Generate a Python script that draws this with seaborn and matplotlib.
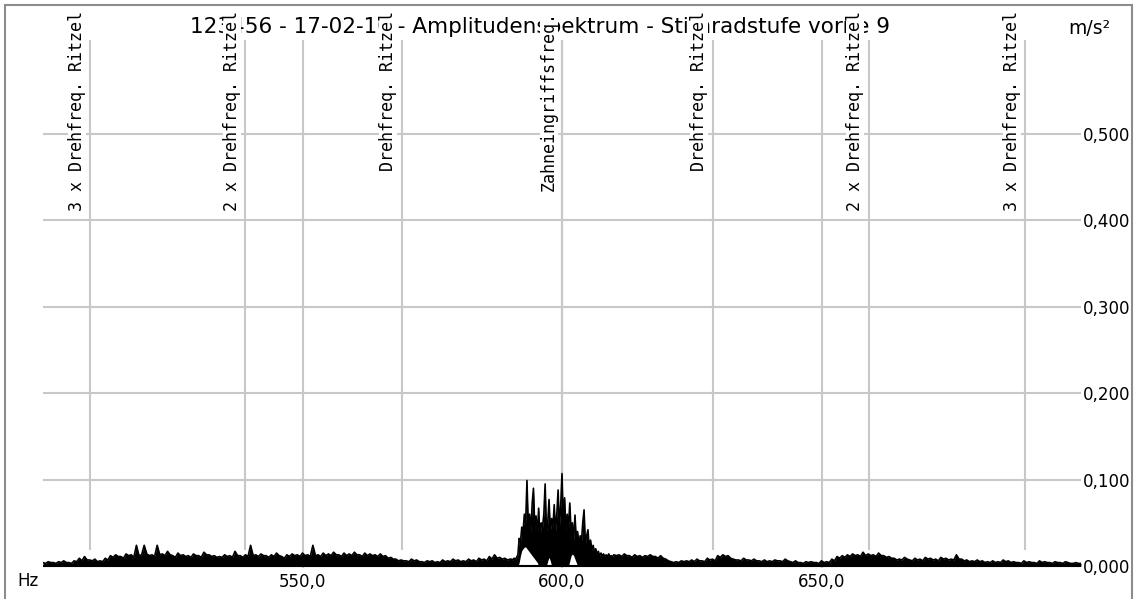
import numpy as np
import matplotlib
matplotlib.use("Agg")
import matplotlib.pyplot as plt
from matplotlib.patches import Rectangle
import seaborn as sns

# ---- amplitude spectrum, m/s² ----
# lower side band floor, 500.0 .. 590.0 Hz in 0.5 Hz bins
low_band_start, low_band_step = 500.0, 0.5
low_band_amp = [
    .004, .003, .005, .004, .004, .003, .005, .004, .006, .004,
    .004, .003, .006, .005, .009, .006, .011, .007, .007, .006,
    .008, .005, .006, .005, .009, .007, .012, .010, .013, .011,
    .011, .009, .014, .012, .013, .010, .024, .012, .013, .024,
    .014, .012, .013, .011, .024, .013, .014, .012, .017, .013,
    .012, .010, .015, .012, .013, .011, .012, .010, .014, .012,
    .012, .010, .016, .013, .013, .011, .012, .010, .011, .010,
    .013, .011, .012, .010, .017, .012, .012, .010, .013, .011,
    .024, .012, .013, .011, .014, .012, .012, .010, .013, .011,
    .015, .012, .011, .009, .013, .011, .014, .012, .013, .011,
    .015, .012, .013, .011, .024, .012, .013, .011, .015, .012,
    .014, .012, .016, .013, .013, .011, .015, .012, .014, .012,
    .016, .013, .013, .011, .015, .012, .014, .012, .013, .011,
    .014, .011, .012, .009, .010, .008, .008, .006, .007, .006,
    .006, .005, .008, .006, .007, .005, .005, .004, .006, .005,
    .006, .004, .005, .004, .007, .005, .006, .005, .008, .006,
    .007, .005, .006, .005, .008, .006, .007, .005, .009, .007,
    .008, .006, .011, .008, .013, .009, .010, .008, .009, .007,
    .008,
]

# tooth mesh region, 590.25 .. 610.0 Hz in 0.25 Hz bins:
# upper contour of the trace and its lower edge
mesh_start, mesh_step = 590.25, 0.25
mesh_amp = [
    .008, .007, .009, .008,
    .010, .013, .032, .028,
    .045, .040, .060, .050,
    .099, .045, .060, .040,
    .072, .090, .045, .058,
    .035, .067, .030, .050,
    .045, .060, .095, .040,
    .050, .077, .040, .055,
    .045, .071, .040, .060,
    .088, .045, .070, .107,
    .050, .079, .040, .060,
    .045, .073, .040, .050,
    .030, .059, .030, .040,
    .025, .035, .028, .050,
    .065, .025, .035, .042,
    .020, .030, .018, .024,
    .016, .020, .014, .017,
    .012, .015, .012, .014,
    .011, .013, .011, .014,
    .011, .012, .011, .013,
]
mesh_floor = [
    0, 0, 0, 0,
    0, 0, .004, .012,
    .018, .020, .022, .022,
    .020, .018, .016, .014,
    .012, .010, .008, .006,
    .004, 0, 0, 0,
    0, 0, 0, 0,
    .006, .010, .006, 0,
    0, 0, 0, 0,
    0, 0, 0, 0,
    0, 0, 0, 0,
    0, .006, .012, .014,
    .012, .008, .004, 0,
    0, 0, 0, 0,
    0, 0, 0, 0,
    0, 0, 0, 0,
    0, 0, 0, 0,
    0, 0, 0, 0,
    0, 0, 0, 0,
    0, 0, 0, 0,
]

# upper side band floor, 610.5 .. 700.0 Hz in 0.5 Hz bins
high_band_start, high_band_step = 610.5, 0.5
high_band_amp = [
    .012, .013, .011, .014, .012, .012, .010, .013, .011,
    .012, .010, .012, .011, .013, .011, .011, .009, .012, .009,
    .008, .006, .005, .004, .005, .004, .006, .005, .006, .005,
    .007, .005, .008, .006, .006, .005, .009, .007, .008, .006,
    .012, .010, .013, .011, .012, .009, .008, .007, .007, .006,
    .009, .007, .007, .006, .008, .006, .006, .005, .007, .005,
    .006, .005, .007, .006, .006, .005, .008, .006, .005, .004,
    .006, .004, .004, .003, .005, .004, .005, .004, .004, .003,
    .006, .004, .005, .004, .008, .006, .011, .009, .012, .010,
    .013, .011, .014, .012, .013, .011, .016, .012, .014, .012,
    .013, .011, .015, .012, .012, .010, .011, .009, .009, .007,
    .008, .007, .010, .008, .007, .006, .009, .007, .008, .006,
    .010, .008, .009, .007, .008, .006, .010, .008, .009, .007,
    .008, .007, .013, .008, .008, .006, .007, .005, .006, .005,
    .007, .005, .006, .004, .005, .004, .006, .004, .005, .004,
    .007, .005, .006, .004, .005, .004, .004, .003, .006, .004,
    .005, .004, .004, .003, .006, .004, .005, .004, .004, .003,
    .005, .004, .004, .003, .005, .004, .003, .003, .004, .003,
    .003,
]

# characteristic frequency markers
marker_freq = [509.1, 539.0, 569.1, 600.0, 629.0, 659.1, 689.3]
marker_labels = [
    "3 x Drehfreq. Ritzel",
    "2 x Drehfreq. Ritzel",
    "Drehfreq. Ritzel",
    "Zahneingriffsfreq.",
    "Drehfreq. Ritzel",
    "2 x Drehfreq. Ritzel",
    "3 x Drehfreq. Ritzel",
]

x_ticks = [550, 600, 650]
x_tick_labels = ["550,0", "600,0", "650,0"]
y_ticks = [0.0, 0.1, 0.2, 0.3, 0.4, 0.5]
y_tick_labels = ["0,000", "0,100", "0,200", "0,300", "0,400", "0,500"]

title_text = "123456 - 17-02-10 - Amplitudenspektrum - Stirnradstufe vorne 9"
unit_y = "m/s²"
unit_x = "Hz"

# ---- frequency axes of the three blocks, joined into one trace ----
low_f = low_band_start + low_band_step * np.arange(len(low_band_amp))
mesh_f = mesh_start + mesh_step * np.arange(len(mesh_amp))
high_f = high_band_start + high_band_step * np.arange(len(high_band_amp))
all_f = np.concatenate([low_f, mesh_f, high_f])
all_amp = np.concatenate([low_band_amp, mesh_amp, high_band_amp])
all_floor = np.concatenate([np.zeros(len(low_band_amp)), mesh_floor,
                            np.zeros(len(high_band_amp))])

sns.set_theme(style="white")
plt.rcParams["font.family"] = ["DejaVu Sans"]
plt.rcParams["text.color"] = "black"
plt.rcParams["xtick.color"] = "black"
plt.rcParams["ytick.color"] = "black"

W, H = 1136, 599
fig = plt.figure(figsize=(W / 100, H / 100), dpi=100)
fig.patch.set_facecolor("white")

ax_left, ax_right, ax_top, ax_bottom = 43, 1081, 40, 567.5
ax = fig.add_axes([ax_left / W, (H - ax_bottom) / H,
                   (ax_right - ax_left) / W, (ax_bottom - ax_top) / H])
y_lo, y_hi = -0.0017, 0.6088
ax.set_xlim(500, 700)
ax.set_ylim(y_lo, y_hi)

grid_col = "#c8c8c8"
ax.set_xticks(x_ticks)
ax.set_xticklabels(x_tick_labels)
ax.set_yticks(y_ticks)
ax.set_yticklabels(y_tick_labels)
ax.yaxis.tick_right()
ax.grid(True, color=grid_col, lw=1.5, zorder=0)
ax.set_axisbelow(True)
ax.tick_params(axis="y", length=0, pad=1.5, labelsize=12)
ax.tick_params(axis="x", length=0, pad=4, labelsize=12)
for sp in ax.spines.values():
    sp.set_visible(False)

# marker lines
ax.vlines(marker_freq, 0.019, y_hi, colors=grid_col, lw=1.5, zorder=1)

# spectrum: dense trace drawn as a filled band plus its upper contour
ax.fill_between(all_f, all_floor, all_amp, color="black", lw=0, zorder=3)
sns.lineplot(x=all_f, y=all_amp, color="black", lw=1.2, ax=ax,
             estimator=None, sort=False, zorder=4)
ax.axhline(0, color="black", lw=1.5, zorder=4)
ax.set_xlabel("")
ax.set_ylabel("")

# marker annotations, anchored at their upper end
for f, lab in zip(marker_freq, marker_labels):
    ax.annotate(lab, xy=(f, 1 - 11 / H), xycoords=("data", "figure fraction"),
                xytext=(-6, 0), textcoords="offset points",
                rotation=90, rotation_mode="anchor", ha="right", va="baseline",
                fontsize=12, family="DejaVu Sans Mono", color="black",
                annotation_clip=False, zorder=6,
                bbox=dict(facecolor="white", edgecolor="none", pad=0))

# headings and units
fig.text(540 / W, 1 - 27 / H, title_text, ha="center", va="center",
         fontsize=15.5, color="black", zorder=-1)
fig.text(1068 / W, 1 - 28 / H, unit_y, ha="left", va="center",
         fontsize=13.5, color="black", zorder=-1)
fig.text(17 / W, 1 - 581 / H, unit_x, ha="left", va="center",
         fontsize=12, color="black", zorder=-1)

# outer frame
fig.add_artist(Rectangle((5 / W, -0.05), (1132 - 5) / W, 1.05 - 5 / H,
                         transform=fig.transFigure, fill=False,
                         edgecolor="#8c8c8c", lw=1.5, zorder=-2))

fig.savefig("out.png", dpi=100)
